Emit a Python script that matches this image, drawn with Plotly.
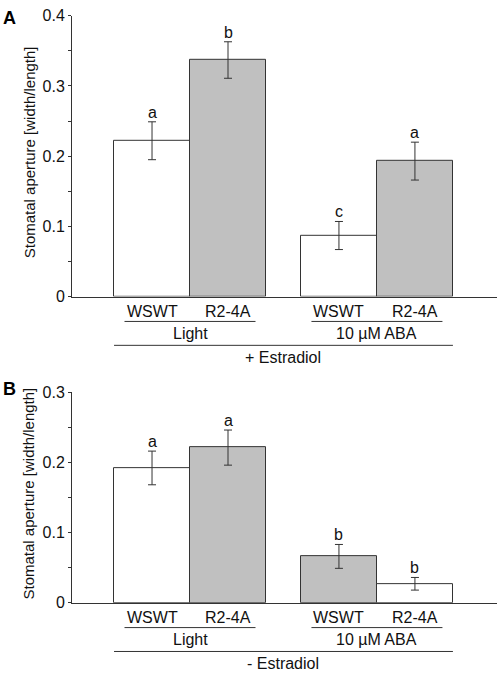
import plotly.graph_objects as go

# ---------------- data ----------------
categories = ["WSWT", "R2-4A", "WSWT", "R2-4A"]
groups = ["Light", "10 µM ABA"]

a_means = [0.222, 0.337, 0.087, 0.193]
a_errs = [0.027, 0.026, 0.020, 0.027]
a_letters = ["a", "b", "c", "a"]
a_fill = ["white", "gray", "white", "gray"]
a_treatment = "+ Estradiol"

b_means = [0.192, 0.221, 0.066, 0.027]
b_errs = [0.024, 0.025, 0.017, 0.009]
b_letters = ["a", "a", "b", "b"]
b_fill = ["white", "gray", "gray", "white"]
b_treatment = "- Estradiol"

y_label = "Stomatal aperture [width/length]"
a_ticks = [0, 0.1, 0.2, 0.3, 0.4]
b_ticks = [0, 0.1, 0.2, 0.3]

# ---------------- layout constants ----------------
W, H = 498, 679
x_pos = [0, 1, 2.46, 3.46]
x_range = [-1.053, 4.54]
FONT = "Liberation Sans, Arial, sans-serif"
TXT = "#111111"
LINE = "#333333"
COLORS = {"white": "#ffffff", "gray": "#c0c0c0"}
FS = 16


def py(px):
    return 1 - px / H


fig = go.Figure()

panels = [
    dict(means=a_means, errs=a_errs, letters=a_letters, fill=a_fill, treat=a_treatment,
         ticks=a_ticks, top=8, bottom=296, xa="x", ya="y", tag="A", tagy=10.5),
    dict(means=b_means, errs=b_errs, letters=b_letters, fill=b_fill, treat=b_treatment,
         ticks=b_ticks, top=394, bottom=610, xa="x2", ya="y2", tag="B", tagy=391),
]

annotations = []
shapes = []

for i, p in enumerate(panels):
    fig.add_trace(go.Bar(
        x=x_pos, y=p["means"], width=1.0,
        marker=dict(color=[COLORS[c] for c in p["fill"]], line=dict(color=LINE, width=1)),
        error_y=dict(type="data", array=p["errs"], visible=True, color=LINE, thickness=1, width=4),
        xaxis=p["xa"], yaxis=p["ya"], showlegend=False, hoverinfo="skip",
    ))
    # significance letters
    for xp, m, e, L in zip(x_pos, p["means"], p["errs"], p["letters"]):
        annotations.append(dict(x=xp, y=m + e, xref=p["xa"], yref=p["ya"], text=L,
                                showarrow=False, yanchor="bottom", yshift=-1,
                                font=dict(size=FS, color=TXT, family=FONT)))
    b0 = p["bottom"]
    # category labels
    for xp, c in zip(x_pos, categories):
        annotations.append(dict(x=xp, y=py(b0 + 15.5), xref=p["xa"], yref="paper", text=c,
                                showarrow=False, yanchor="middle",
                                font=dict(size=FS, color=TXT, family=FONT)))
    # group underlines and labels
    for g, (x0, x1) in enumerate([(x_pos[0], x_pos[1]), (x_pos[2], x_pos[3])]):
        c = (x0 + x1) / 2
        shapes.append(dict(type="line", xref=p["xa"], yref="paper", x0=c - 0.862, x1=c + 0.862,
                           y0=py(b0 + 25.5), y1=py(b0 + 25.5), line=dict(color=LINE, width=1)))
        annotations.append(dict(x=c, y=py(b0 + 37.5), xref=p["xa"], yref="paper", text=groups[g],
                                showarrow=False, yanchor="middle",
                                font=dict(size=FS, color=TXT, family=FONT)))
    # treatment line and label
    shapes.append(dict(type="line", xref=p["xa"], yref="paper", x0=x_pos[0] - 0.5, x1=x_pos[3] + 0.5,
                       y0=py(b0 + 50), y1=py(b0 + 50), line=dict(color=LINE, width=1)))
    annotations.append(dict(x=(x_pos[0] + x_pos[3]) / 2, y=py(b0 + 62), xref=p["xa"], yref="paper",
                            text=p["treat"], showarrow=False, yanchor="middle",
                            font=dict(size=FS, color=TXT, family=FONT)))
    # y axis title
    annotations.append(dict(x=29 / W, y=py((p["top"] + p["bottom"]) / 2 - 4), xref="paper", yref="paper",
                            text=y_label, textangle=-90, showarrow=False,
                            xanchor="center", yanchor="middle",
                            font=dict(size=15, color=TXT, family=FONT)))
    # panel tag
    annotations.append(dict(x=9 / W, y=py(p["tagy"]), xref="paper", yref="paper",
                            text="<b>%s</b>" % p["tag"], showarrow=False,
                            xanchor="center", yanchor="middle",
                            font=dict(size=18, color="#000000", family=FONT)))

xdom = [72 / W, 497 / W]
common_x = dict(range=x_range, showline=True, linecolor=LINE, linewidth=1, showgrid=False,
                zeroline=False, showticklabels=False, ticks="", fixedrange=True)


def yax(p, anchor):
    return dict(domain=[py(p["bottom"]), py(p["top"])], range=[0, p["ticks"][-1]],
                tickvals=p["ticks"], ticktext=[("%g" % t) for t in p["ticks"]],
                showline=True, linecolor=LINE, linewidth=1, showgrid=False, zeroline=False,
                ticks="outside", ticklen=3, tickcolor=LINE, tickwidth=1,
                minor=dict(dtick=0.05, ticks="outside", ticklen=3, tickcolor=LINE, tickwidth=1, showgrid=False),
                tickfont=dict(size=FS, color=TXT, family=FONT), anchor=anchor, fixedrange=True)


fig.update_layout(
    width=W, height=H, margin=dict(l=0, r=0, t=0, b=0),
    paper_bgcolor="white", plot_bgcolor="white",
    xaxis=dict(domain=xdom, anchor="y", **common_x),
    xaxis2=dict(domain=xdom, anchor="y2", **common_x),
    yaxis=yax(panels[0], "x"),
    yaxis2=yax(panels[1], "x2"),
    annotations=annotations, shapes=shapes, bargap=0,
    font=dict(family=FONT, color=TXT),
)

fig.write_html("out.html", config={"displayModeBar": False},
               post_script="document.body.style.margin='0';document.body.style.overflow='hidden';")
